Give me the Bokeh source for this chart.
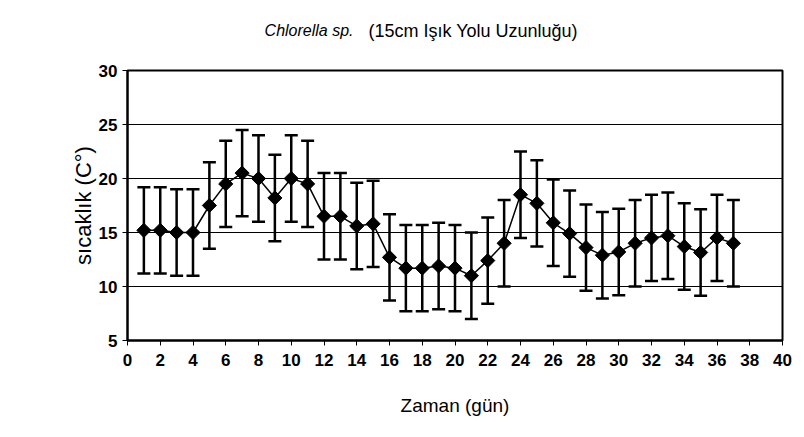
from bokeh.plotting import figure
from bokeh.models import ColumnDataSource, Whisker, TeeHead, Label, FixedTicker, Range1d
from bokeh.layouts import column
from bokeh.embed import file_html
from bokeh.resources import INLINE
import math

days = [1, 2, 3, 4, 5, 6, 7, 8, 9, 10, 11, 12, 13, 14, 15, 16, 17, 18, 19,
        20, 21, 22, 23, 24, 25, 26, 27, 28, 29, 30, 31, 32, 33, 34, 35, 36, 37]
temps = [15.2, 15.2, 15.0, 15.0, 17.5, 19.5, 20.5, 20.0, 18.2, 20.0, 19.5,
         16.5, 16.5, 15.6, 15.8, 12.7, 11.7, 11.7, 11.9, 11.7, 11.0, 12.4,
         14.0, 18.5, 17.7, 15.9, 14.9, 13.6, 12.9, 13.2, 14.0, 14.5, 14.7,
         13.7, 13.15, 14.5, 14.0]
errs = [4.0, 4.0, 4.0, 4.0, 4.0, 4.0, 4.0, 4.0, 4.0, 4.0, 4.0, 4.0, 4.0,
        4.0, 4.0, 4.0, 4.0, 4.0, 4.0, 4.0, 4.0, 4.0, 4.0, 4.0, 4.0, 4.0,
        4.0, 4.0, 4.0, 4.0, 4.0, 4.0, 4.0, 4.0, 4.0, 4.0, 4.0]
x_ticks = [0, 2, 4, 6, 8, 10, 12, 14, 16, 18, 20, 22, 24, 26, 28, 30, 32, 34, 36, 38, 40]
y_ticks = [5, 10, 15, 20, 25, 30]

title_italic = "Chlorella sp."
title_rest = "(15cm Işık Yolu Uzunluğu)"
x_label = "Zaman (gün)"
y_label = "sıcaklık (C°)"

FONT = "Liberation Sans"
W = 796
TITLE_H = 58
MAIN_H = 371
FRAME_L, FRAME_R = 127, 782   # frame edges shared by both stacked figures

# ---- title strip (its own small figure; its frame is aligned with the chart's)
t = figure(width=W, height=TITLE_H, output_backend="svg", toolbar_location=None,
           x_range=Range1d(FRAME_L, FRAME_R), y_range=Range1d(TITLE_H, 0),
           x_axis_location=None, y_axis_location=None,
           min_border=0, min_border_left=0, min_border_right=0,
           min_border_top=0, min_border_bottom=0)
t.outline_line_color = None
t.xgrid.grid_line_color = None
t.ygrid.grid_line_color = None
t.background_fill_color = "white"
t.border_fill_color = "white"
t.add_layout(Label(x=353, y=30, text=title_italic, text_align="right",
                   text_baseline="middle", text_font=FONT, text_font_size="16px",
                   text_font_style="italic", text_color="black"))
t.add_layout(Label(x=368, y=30, text=title_rest, text_align="left",
                   text_baseline="middle", text_font=FONT, text_font_size="18px",
                   text_font_style="normal", text_color="black"))

# ---- main chart
src = ColumnDataSource(dict(
    x=days, y=temps,
    upper=[v + e for v, e in zip(temps, errs)],
    lower=[v - e for v, e in zip(temps, errs)],
))

p = figure(width=W, height=MAIN_H, output_backend="svg", toolbar_location=None,
           x_range=Range1d(0, 40), y_range=Range1d(5, 30),
           min_border_left=FRAME_L, min_border_right=W - FRAME_R,
           min_border_top=12, min_border_bottom=89)
p.background_fill_color = "white"
p.border_fill_color = "white"
p.outline_line_color = "black"
p.outline_line_width = 2

p.xgrid.grid_line_color = None
p.ygrid.grid_line_color = "black"
p.ygrid.grid_line_width = 1

p.xaxis.ticker = FixedTicker(ticks=x_ticks)
p.yaxis.ticker = FixedTicker(ticks=y_ticks)
for ax in (p.xaxis[0], p.yaxis[0]):
    ax.axis_line_color = "black"
    ax.axis_line_width = 2
    ax.major_tick_line_color = "black"
    ax.major_tick_line_width = 1
    ax.major_tick_in = 0
    ax.major_tick_out = 5
    ax.minor_tick_line_color = None
    ax.major_label_text_font = FONT
    ax.major_label_text_font_size = "17px"
    ax.major_label_text_font_style = "bold"
    ax.major_label_text_color = "black"
    ax.axis_label_text_font = FONT
    ax.axis_label_text_font_style = "normal"
    ax.axis_label_text_color = "black"

p.xaxis.axis_label = x_label
p.yaxis.axis_label = y_label
p.xaxis.axis_label_text_font_size = "19px"
p.yaxis.axis_label_text_font_size = "22px"
p.xaxis.major_label_standoff = 8
p.xaxis.axis_label_standoff = 26
p.yaxis.major_label_standoff = 5
p.yaxis.axis_label_standoff = 0

w = Whisker(source=src, base="x", upper="upper", lower="lower",
            line_color="black", line_width=2.5,
            upper_head=TeeHead(size=13, line_color="black", line_width=2.5),
            lower_head=TeeHead(size=13, line_color="black", line_width=2.5))
p.add_layout(w)

p.line("x", "y", source=src, line_color="black", line_width=1.5)
p.scatter("x", "y", source=src, marker="square", angle=math.pi / 4, size=10,
          fill_color="black", line_color="black")

layout = column(t, p, spacing=0)
open("out.html", "w").write(file_html(layout, INLINE))
